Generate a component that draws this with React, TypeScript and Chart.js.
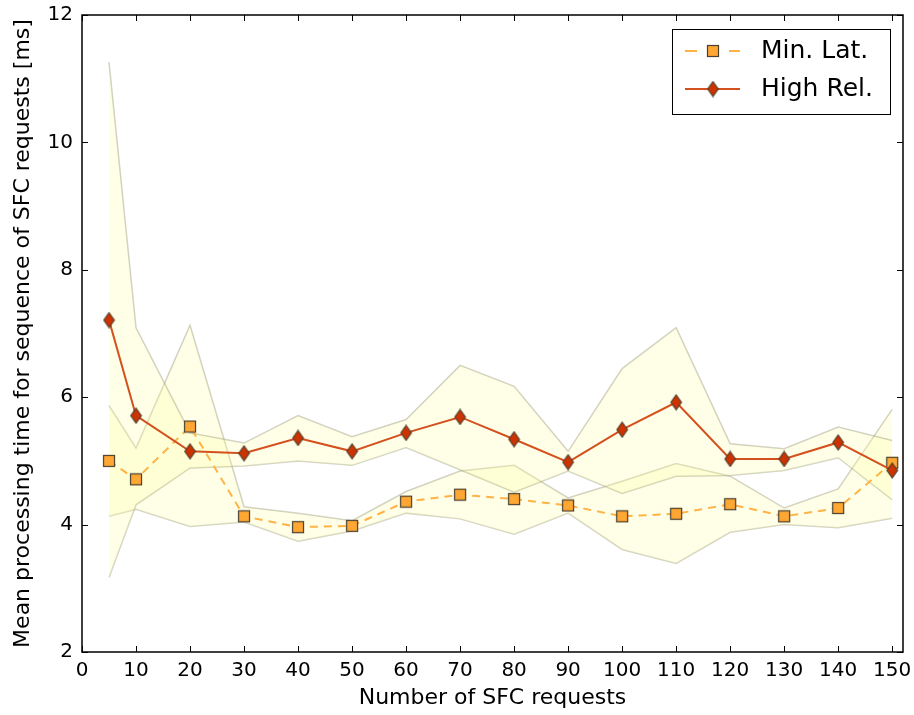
import React, { useEffect, useRef } from "react";
import { Chart, registerables } from "chart.js";

Chart.register(...registerables);

const xValues = [5, 10, 20, 30, 40, 50, 60, 70, 80, 90, 100, 110, 120, 130, 140, 150];
const minLatMean = [5.0, 4.71, 5.54, 4.13, 3.96, 3.98, 4.36, 4.47, 4.4, 4.3, 4.13, 4.17, 4.32, 4.13, 4.26, 4.97];
const minLatUpper = [5.87, 5.2, 7.13, 4.28, 4.18, 4.06, 4.52, 4.84, 4.93, 4.42, 4.68, 4.96, 4.76, 4.26, 4.56, 5.81];
const minLatLower = [4.13, 4.24, 3.97, 4.04, 3.74, 3.9, 4.18, 4.09, 3.85, 4.18, 3.61, 3.39, 3.88, 4.0, 3.95, 4.1];
const highRelMean = [7.21, 5.71, 5.15, 5.12, 5.36, 5.15, 5.44, 5.69, 5.34, 4.98, 5.49, 5.92, 5.03, 5.03, 5.29, 4.85];
const highRelUpper = [11.26, 7.09, 5.44, 5.28, 5.71, 5.38, 5.65, 6.5, 6.17, 5.15, 6.45, 7.09, 5.27, 5.19, 5.53, 5.32];
const highRelLower = [3.17, 4.31, 4.89, 4.92, 5.0, 4.93, 5.21, 4.86, 4.51, 4.84, 4.49, 4.76, 4.77, 4.85, 5.05, 4.39];
const seriesNames = ["Min. Lat.", "High Rel."];
const xTicks = [0, 10, 20, 30, 40, 50, 60, 70, 80, 90, 100, 110, 120, 130, 140, 150];
const yTicks = [2, 4, 6, 8, 10, 12];

const FONT = "'DejaVu Sans', sans-serif";
const SQ_FILL = "#ffa733";
const SQ_LINE = "#ffb347";
const DI_FILL = "#cc3300";
const DI_LINE = "#d4501e";
const EDGE = "#4a4030";
const BAND_FILL = "rgba(255,255,160,0.25)";
const BAND_EDGE = "rgba(150,150,120,0.42)";

function makeSquare(): HTMLCanvasElement {
  const c = document.createElement("canvas");
  c.width = 14;
  c.height = 14;
  const ctx = c.getContext("2d")!;
  ctx.fillStyle = SQ_FILL;
  ctx.strokeStyle = EDGE;
  ctx.lineWidth = 1.2;
  ctx.fillRect(1.5, 1.5, 11, 11);
  ctx.strokeRect(1.5, 1.5, 11, 11);
  return c;
}

function makeDiamond(): HTMLCanvasElement {
  const c = document.createElement("canvas");
  c.width = 13;
  c.height = 17;
  const ctx = c.getContext("2d")!;
  ctx.beginPath();
  ctx.moveTo(6.5, 1);
  ctx.lineTo(11.8, 8.5);
  ctx.lineTo(6.5, 16);
  ctx.lineTo(1.2, 8.5);
  ctx.closePath();
  ctx.fillStyle = DI_FILL;
  ctx.fill();
  ctx.strokeStyle = EDGE;
  ctx.lineWidth = 1.1;
  ctx.stroke();
  return c;
}

export default function App() {
  const ref = useRef<HTMLCanvasElement | null>(null);

  useEffect(() => {
    document.body.style.margin = "0";
    const sq = makeSquare();
    const di = makeDiamond();

    const pts = (arr: number[]) => xValues.map((x, i) => ({ x, y: arr[i] }));

    const framePlugin = {
      id: "frameTicks",
      afterDraw(chart: any) {
        const { ctx, chartArea: a, scales } = chart;
        ctx.save();
        ctx.strokeStyle = "#000";
        ctx.lineWidth = 1;
        const tl = 6;
        ctx.beginPath();
        for (const v of xTicks) {
          const px = Math.round(scales.x.getPixelForValue(v)) + 0.5;
          ctx.moveTo(px, a.bottom);
          ctx.lineTo(px, a.bottom - tl);
          ctx.moveTo(px, a.top);
          ctx.lineTo(px, a.top + tl);
        }
        for (const v of yTicks) {
          const py = Math.round(scales.y.getPixelForValue(v)) + 0.5;
          ctx.moveTo(a.left, py);
          ctx.lineTo(a.left + tl, py);
          ctx.moveTo(a.right, py);
          ctx.lineTo(a.right - tl, py);
        }
        ctx.stroke();
        ctx.lineWidth = 1.5;
        ctx.strokeRect(a.left, a.top, a.right - a.left, a.bottom - a.top);

        // legend
        const lx = 672, ly = 29, lw = 218, lh = 85;
        ctx.fillStyle = "#fff";
        ctx.fillRect(lx, ly, lw, lh);
        ctx.lineWidth = 1;
        ctx.strokeStyle = "#000";
        ctx.strokeRect(lx + 0.5, ly + 0.5, lw, lh);
        const rows = [51, 89];
        ctx.strokeStyle = SQ_LINE;
        ctx.lineWidth = 2;
        ctx.beginPath();
        ctx.moveTo(685, rows[0]);
        ctx.lineTo(697, rows[0]);
        ctx.moveTo(729, rows[0]);
        ctx.lineTo(740, rows[0]);
        ctx.stroke();
        ctx.drawImage(sq, 713 - 7, rows[0] - 7);
        ctx.strokeStyle = DI_LINE;
        ctx.lineWidth = 2;
        ctx.beginPath();
        ctx.moveTo(685, rows[1]);
        ctx.lineTo(740, rows[1]);
        ctx.stroke();
        ctx.drawImage(di, 713 - 6.5, rows[1] - 8.5);
        ctx.fillStyle = "#000";
        ctx.font = `25px ${FONT}`;
        ctx.textBaseline = "middle";
        ctx.textAlign = "left";
        ctx.fillText(seriesNames[0], 761, rows[0]);
        ctx.fillText(seriesNames[1], 761, rows[1]);
        ctx.restore();
      },
    };

    const band = (upper: number[], lower: number[]) => [
      {
        label: "band-upper",
        data: pts(upper),
        borderColor: BAND_EDGE,
        borderWidth: 1.5,
        backgroundColor: BAND_FILL,
        fill: "+1",
        pointRadius: 0,
        tension: 0,
        order: 5,
      },
      {
        label: "band-lower",
        data: pts(lower),
        borderColor: BAND_EDGE,
        borderWidth: 1.5,
        backgroundColor: BAND_FILL,
        fill: false,
        pointRadius: 0,
        tension: 0,
        order: 5,
      },
    ];

    const chart = new Chart(ref.current!, {
      type: "line",
      data: {
        datasets: [
          ...band(highRelUpper, highRelLower),
          ...band(minLatUpper, minLatLower),
          {
            label: seriesNames[0],
            data: pts(minLatMean),
            borderColor: SQ_LINE,
            borderWidth: 2,
            borderDash: [8, 6],
            pointStyle: sq as any,
            fill: false,
            tension: 0,
            order: 1,
          },
          {
            label: seriesNames[1],
            data: pts(highRelMean),
            borderColor: DI_LINE,
            borderWidth: 2,
            pointStyle: di as any,
            fill: false,
            tension: 0,
            order: 0,
          },
        ],
      },
      options: {
        animation: false,
        responsive: false,
        maintainAspectRatio: false,
        layout: { padding: { top: 15, right: 11, left: 0, bottom: 0 } },
        plugins: {
          legend: { display: false },
          tooltip: { enabled: false },
          filler: { propagate: false },
        },
        scales: {
          x: {
            type: "linear",
            min: 0,
            max: 152,
            grid: { display: false, drawTicks: false },
            border: { display: false },
            afterBuildTicks: (s: any) => {
              s.ticks = xTicks.map((v) => ({ value: v }));
            },
            afterFit: (s: any) => {
              s.height = 63;
              s.paddingLeft = 0;
              s.paddingRight = 0;
            },
            ticks: {
              color: "#000",
              font: { family: FONT, size: 20 },
              padding: 7,
              maxRotation: 0,
              autoSkip: false,
            },
            title: {
              display: true,
              text: "Number of SFC requests",
              color: "#000",
              font: { family: FONT, size: 22 },
              padding: { top: 0, bottom: 4 },
            },
          },
          y: {
            type: "linear",
            min: 2,
            max: 12,
            grid: { display: false, drawTicks: false },
            border: { display: false },
            afterBuildTicks: (s: any) => {
              s.ticks = yTicks.map((v) => ({ value: v }));
            },
            afterFit: (s: any) => {
              s.width = 82;
              s.paddingTop = 0;
              s.paddingBottom = 0;
            },
            ticks: {
              color: "#000",
              font: { family: FONT, size: 20 },
              padding: 9,
              autoSkip: false,
            },
            title: {
              display: true,
              text: "Mean processing time for sequence of SFC requests [ms]",
              color: "#000",
              font: { family: FONT, size: 22 },
              padding: { top: 10, bottom: 0 },
            },
          },
        },
      },
      plugins: [framePlugin],
    });
    return () => chart.destroy();
  }, []);

  return (
    <div style={{ width: 914, height: 715 }}>
      <canvas ref={ref} width={914} height={715} style={{ display: "block", width: 914, height: 715 }} />
    </div>
  );
}
